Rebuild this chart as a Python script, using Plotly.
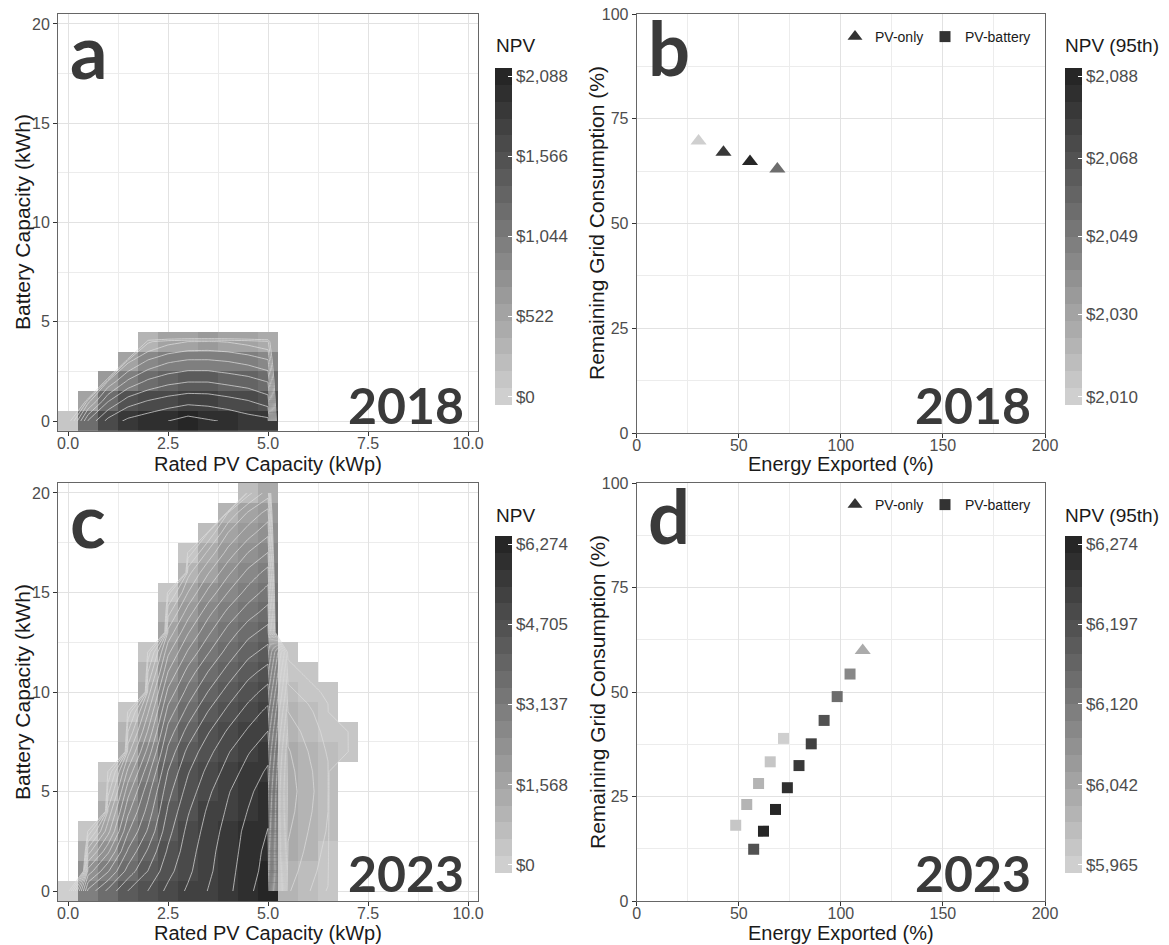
import plotly.graph_objects as go

W, H = 1169, 945

# ---------------- data ----------------
# 2018 NPV surface (rows: battery kWh, columns: PV kWp); None = NPV below zero
pv_kwp_2018 = [0.0, 0.5, 1.0, 1.5, 2.0, 2.5, 3.0, 3.5, 4.0, 4.5, 5.0, 5.5]
batt_kwh_2018 = [0, 1, 2, 3, 4, 5]
npv_2018 = [
    [60, 1225, 1675, 1850, 1925, 2000, 2088, 2025, 1975, 1900, 1863, None],
    [None, 525, 1188, 1500, 1613, 1688, 1738, 1725, 1675, 1613, 1500, None],
    [None, None, 638, 1038, 1238, 1338, 1388, 1388, 1338, 1288, 1188, None],
    [None, None, None, 563, 838, 975, 1038, 1038, 1000, 938, 838, None],
    [None, None, None, None, 363, 525, 600, 613, 588, 525, 438, None],
    [None, None, None, None, None, None, None, None, None, None, None, None],
]

# 2023 NPV surface
pv_kwp_2023 = [0.0, 0.5, 1.0, 1.5, 2.0, 2.5, 3.0, 3.5, 4.0, 4.5, 5.0, 5.5, 6.0, 6.5, 7.0, 7.5]
batt_kwh_2023 = list(range(21))
N = None
npv_2023 = [
    [150, 3081, 3682, 4208, 4508, 4884, 5147, 5410, 5636, 5898, 6274, 939, 639, 263, N, N],
    [N, 2217, 2968, 3719, 4208, 4696, 5034, 5335, 5598, 5861, 6124, 1052, 751, 413, N, N],
    [N, 1353, 2329, 3344, 3945, 4546, 4959, 5297, 5560, 5823, 6086, 1165, 827, 488, N, N],
    [N, 376, 1691, 2968, 3644, 4396, 4884, 5222, 5523, 5786, 6011, 1240, 902, 564, N, N],
    [N, N, 1277, 2630, 3419, 4245, 4771, 5147, 5448, 5711, 5936, 1315, 977, 601, N, N],
    [N, N, 789, 2292, 3193, 4095, 4621, 5034, 5373, 5636, 5861, 1353, 1014, 639, N, N],
    [N, N, 338, 1879, 2893, 3907, 4471, 4884, 5222, 5523, 5748, 1315, 977, 639, N, N],
    [N, N, N, 1390, 2517, 3682, 4283, 4696, 5072, 5373, 5598, 1240, 902, 564, 380, N],
    [N, N, N, 902, 2141, 3419, 4020, 4471, 4847, 5147, 5410, 1090, 789, 488, 330, N],
    [N, N, N, 413, 1766, 3118, 3719, 4208, 4584, 4922, 5185, 902, 676, 376, N, N],
    [N, N, N, N, 1353, 2780, 3419, 3907, 4321, 4659, 4922, 676, 488, 188, N, N],
    [N, N, N, N, 902, 2404, 3118, 3607, 4020, 4396, 4621, 488, 188, N, N, N],
    [N, N, N, N, 413, 2029, 2743, 3269, 3719, 4095, 4321, 188, N, N, N, N],
    [N, N, N, N, N, 1578, 2367, 2930, 3419, 3795, 4020, N, N, N, N, N],
    [N, N, N, N, N, 1090, 1954, 2592, 3081, 3456, 3719, N, N, N, N, N],
    [N, N, N, N, N, 488, 1503, 2179, 2705, 3118, 3419, N, N, N, N, N],
    [N, N, N, N, N, N, 1090, 1766, 2329, 2780, 3118, N, N, N, N, N],
    [N, N, N, N, N, N, 413, 1277, 1916, 2404, 2705, N, N, N, N, N],
    [N, N, N, N, N, N, N, 601, 1503, 1954, 2329, N, N, N, N, N],
    [N, N, N, N, N, N, N, N, 902, 1540, 1916, N, N, N, N, N],
    [N, N, N, N, N, N, N, N, N, 789, 1353, N, N, N, N, N],
]

npv_ticks_2018 = [0, 522, 1044, 1566, 2088]
npv_ticks_2023 = [0, 1568, 3137, 4705, 6274]

# Optimal systems: energy exported vs remaining grid consumption
exp_2018_pv = [30.3, 42.5, 55.5, 68.9]
grid_2018_pv = [69.7, 67.0, 64.8, 63.0]
npv95_2018_pv = [2010, 2080, 2088, 2054]
npv95_ticks_2018 = [2010, 2030, 2049, 2068, 2088]

exp_2023_pv = [110.7]
grid_2023_pv = [59.9]
npv95_2023_pv = [6033]
exp_2023_bat = [104.5, 98.2, 91.8, 85.5, 79.5, 73.8, 68.0, 62.1, 57.3, 71.9, 65.4, 59.7, 53.9, 48.5]
grid_2023_bat = [54.3, 48.9, 43.2, 37.6, 32.4, 27.1, 21.9, 16.7, 12.4, 38.9, 33.3, 28.1, 23.1, 18.1]
npv95_2023_bat = [6089, 6148, 6187, 6218, 6239, 6257, 6274, 6267, 6187, 5965, 5982, 6009, 6019, 5982]
npv95_ticks_2023 = [5965, 6042, 6120, 6197, 6274]

# ---------------- styling helpers ----------------
FONT = "Liberation Sans, Arial, sans-serif"
BIG = "Lato, Open Sans, sans-serif"
NBIN = 20


def band_scale(lo=207, hi=38, n=NBIN):
    out = []
    for i in range(n):
        g = round(lo + (hi - lo) * i / (n - 1))
        c = f"rgb({g},{g},{g})"
        out.append([i / n, c])
        out.append([(i + 1) / n, c])
    return out


SCALE = band_scale()


def crange(ticks):
    lo, hi = ticks[0], ticks[-1]
    w = (hi - lo) / (NBIN - 1)
    return lo - w / 2, hi + w / 2


def money(v):
    return f"${v:,.0f}"


def cbar(ticks, x_px, top_px):
    return dict(
        thickness=17, thicknessmode="pixels", len=337, lenmode="pixels",
        x=x_px / W, xanchor="left", y=1 - top_px / H, yanchor="top",
        xpad=0, ypad=0, outlinewidth=0,
        tickmode="array", tickvals=ticks, ticktext=[money(t) for t in ticks],
        ticks="inside", ticklen=4, tickcolor="white", tickwidth=1,
        tickfont=dict(family=FONT, size=17, color="#4d4d4d"),
    )


def fill_missing(z, value):
    return [[value if v is None else v for v in row] for row in z]


fig = go.Figure()


def add_surface(x, y, z, ticks, step, xa, ya, cb_x, cb_top):
    cmin, cmax = crange(ticks)
    fig.add_trace(go.Heatmap(
        x=x, y=y, z=z, colorscale=SCALE, zmin=cmin, zmax=cmax,
        colorbar=cbar(ticks, cb_x, cb_top), xaxis=xa, yaxis=ya,
        hoverinfo="skip",
    ))
    top = ticks[-1]
    fig.add_trace(go.Contour(
        x=x, y=y, z=fill_missing(z, -top), autocontour=False,
        contours=dict(start=step, end=top, size=step, coloring="none"),
        line=dict(color="rgba(222,222,222,0.8)", width=0.9, smoothing=0),
        showscale=False, xaxis=xa, yaxis=ya, hoverinfo="skip", showlegend=False,
    ))


add_surface(pv_kwp_2018, batt_kwh_2018, npv_2018, npv_ticks_2018, 200, "x", "y", 495, 68)
add_surface(pv_kwp_2023, batt_kwh_2023, npv_2023, npv_ticks_2023, 300, "x3", "y3", 495, 536)


def add_points(xv, yv, cv, ticks, symbol, size, xa, ya, cb_x, cb_top, show_cb):
    cmin, cmax = crange(ticks)
    marker = dict(symbol=symbol, size=size, color=cv, colorscale=SCALE,
                  cmin=cmin, cmax=cmax, line=dict(width=0), showscale=show_cb)
    if show_cb:
        marker["colorbar"] = cbar(ticks, cb_x, cb_top)
    fig.add_trace(go.Scatter(x=xv, y=yv, mode="markers", marker=marker,
                             xaxis=xa, yaxis=ya, showlegend=False, hoverinfo="skip"))


add_points(exp_2018_pv, grid_2018_pv, npv95_2018_pv, npv95_ticks_2018,
           "triangle-up", 14, "x2", "y2", 1065, 68, True)
add_points(exp_2023_bat, grid_2023_bat, npv95_2023_bat, npv95_ticks_2023,
           "square", 11, "x4", "y4", 1065, 536, True)
add_points(exp_2023_pv, grid_2023_pv, npv95_2023_pv, npv95_ticks_2023,
           "triangle-up", 14, "x4", "y4", 1065, 536, False)

# legend keys (a trailing blank entry keeps the last label from being clipped)
for lg, xa, ya in (("legend", "x2", "y2"), ("legend2", "x4", "y4")):
    fig.add_trace(go.Scatter(x=[None], y=[None], mode="markers", name="PV-only",
                             marker=dict(symbol="triangle-up", size=13, color="#333333"),
                             xaxis=xa, yaxis=ya, legend=lg))
    fig.add_trace(go.Scatter(x=[None], y=[None], mode="markers", name="PV-battery",
                             marker=dict(symbol="square", size=11, color="#333333"),
                             xaxis=xa, yaxis=ya, legend=lg))
    fig.add_trace(go.Scatter(x=[None], y=[None], mode="markers", name=" ",
                             marker=dict(size=1, color="rgba(0,0,0,0)"),
                             xaxis=xa, yaxis=ya, legend=lg))

# ---------------- axes ----------------
GRID = "#e2e2e2"
MINOR = "#ececec"


def axis(domain, rng, tickvals, ticktext, minor_dtick, anchor, is_x):
    d = dict(
        domain=domain, range=rng, autorange=False, anchor=anchor,
        tickmode="array", tickvals=tickvals, ticktext=ticktext,
        ticks="outside", ticklen=4, tickwidth=1, tickcolor="#333333",
        tickfont=dict(family=FONT, size=16, color="#4d4d4d"),
        showline=True, linecolor="#666666", linewidth=1, mirror=True,
        showgrid=True, gridcolor=GRID, gridwidth=1.4, zeroline=False,
        minor=dict(tickmode="linear", tick0=0, dtick=minor_dtick, showgrid=True,
                   gridcolor=MINOR, gridwidth=1, ticks=""),
        automargin=False, fixedrange=True,
    )
    if is_x:
        d["ticklabelstandoff"] = -6
    return d


xa_dom = [58 / W, 478 / W]
xb_dom = [636.7 / W, 1045 / W]
top_dom = [1 - 431 / H, 1 - 14 / H]
top_dom_b = [1 - 433 / H, 1 - 14 / H]
bot_dom = [1 - 901 / H, 1 - 483 / H]

pv_ticks = [0, 2.5, 5, 7.5, 10]
pv_text = ["0.0", "2.5", "5.0", "7.5", "10.0"]
bat_ticks = [0, 5, 10, 15, 20]
exp_ticks = [0, 50, 100, 150, 200]
grid_ticks = [0, 25, 50, 75, 100]

fig.update_layout(
    xaxis=axis(xa_dom, [-0.25, 10.25], pv_ticks, pv_text, 1.25, "y", True),
    yaxis=axis(top_dom, [-0.5, 20.5], bat_ticks, [str(t) for t in bat_ticks], 2.5, "x", False),
    xaxis2=axis(xb_dom, [0, 200], exp_ticks, [str(t) for t in exp_ticks], 25, "y2", True),
    yaxis2=axis(top_dom_b, [0, 100], grid_ticks, [str(t) for t in grid_ticks], 12.5, "x2", False),
    xaxis3=axis(xa_dom, [-0.25, 10.25], pv_ticks, pv_text, 1.25, "y3", True),
    yaxis3=axis(bot_dom, [-0.5, 20.5], bat_ticks, [str(t) for t in bat_ticks], 2.5, "x3", False),
    xaxis4=axis(xb_dom, [0, 200], exp_ticks, [str(t) for t in exp_ticks], 25, "y4", True),
    yaxis4=axis(bot_dom, [0, 100], grid_ticks, [str(t) for t in grid_ticks], 12.5, "x4", False),
)

legend_style = dict(orientation="h", xanchor="left", yanchor="top",
                    font=dict(family=FONT, size=14, color="#1a1a1a"),
                    bgcolor="rgba(0,0,0,0)", borderwidth=0,
                    entrywidth=45, entrywidthmode="pixels", itemclick=False,
                    itemdoubleclick=False)
fig.update_layout(
    legend=dict(legend_style, x=835 / W, y=1 - 21 / H),
    legend2=dict(legend_style, x=835 / W, y=1 - 489 / H),
)

# ---------------- text labels ----------------
ann = []


def label(text, x_px, y_px, size, anchor_x, family=BIG, color="#3a3a3a", bold=True, angle=0):
    ann.append(dict(text=f"<b>{text}</b>" if bold else text, x=x_px / W, y=1 - y_px / H,
                    xref="paper", yref="paper", xanchor=anchor_x, yanchor="middle",
                    showarrow=False, textangle=angle,
                    font=dict(family=family, size=size, color=color)))


# axis titles
for cx, cy in ((268, 464), (268, 933)):
    label("Rated PV Capacity (kWp)", cx, cy, 20, "center", FONT, "#1a1a1a", False)
for cx, cy in ((841, 464), (841, 933)):
    label("Energy Exported (%)", cx, cy, 20, "center", FONT, "#1a1a1a", False)
for cx, cy in ((22, 222), (22, 692)):
    label("Battery Capacity (kWh)", cx, cy, 21, "center", FONT, "#1a1a1a", False, -90)
for cx, cy in ((597, 223), (597, 692)):
    label("Remaining Grid Consumption (%)", cx, cy, 21, "center", FONT, "#1a1a1a", False, -90)

# panel letters
label("a", 68, 50, 74, "left")
label("b", 646, 47, 74, "left")
label("c", 68, 519, 74, "left")
label("d", 646, 515, 74, "left")
# years
label("2018", 466, 405, 50, "right")
label("2018", 1033, 405, 50, "right")
label("2023", 466, 873, 50, "right")
label("2023", 1033, 873, 50, "right")
# colour bar titles
label("NPV", 494, 46, 19, "left", FONT, "#1a1a1a", False)
label("NPV (95th)", 1063, 46, 19, "left", FONT, "#1a1a1a", False)
label("NPV", 494, 515, 19, "left", FONT, "#1a1a1a", False)
label("NPV (95th)", 1063, 515, 19, "left", FONT, "#1a1a1a", False)

fig.update_layout(
    annotations=ann,
    width=W, height=H,
    margin=dict(l=0, r=0, t=0, b=0),
    paper_bgcolor="white", plot_bgcolor="white",
    font=dict(family=FONT),
)

fig.write_html("out.html", config={"displayModeBar": False})
